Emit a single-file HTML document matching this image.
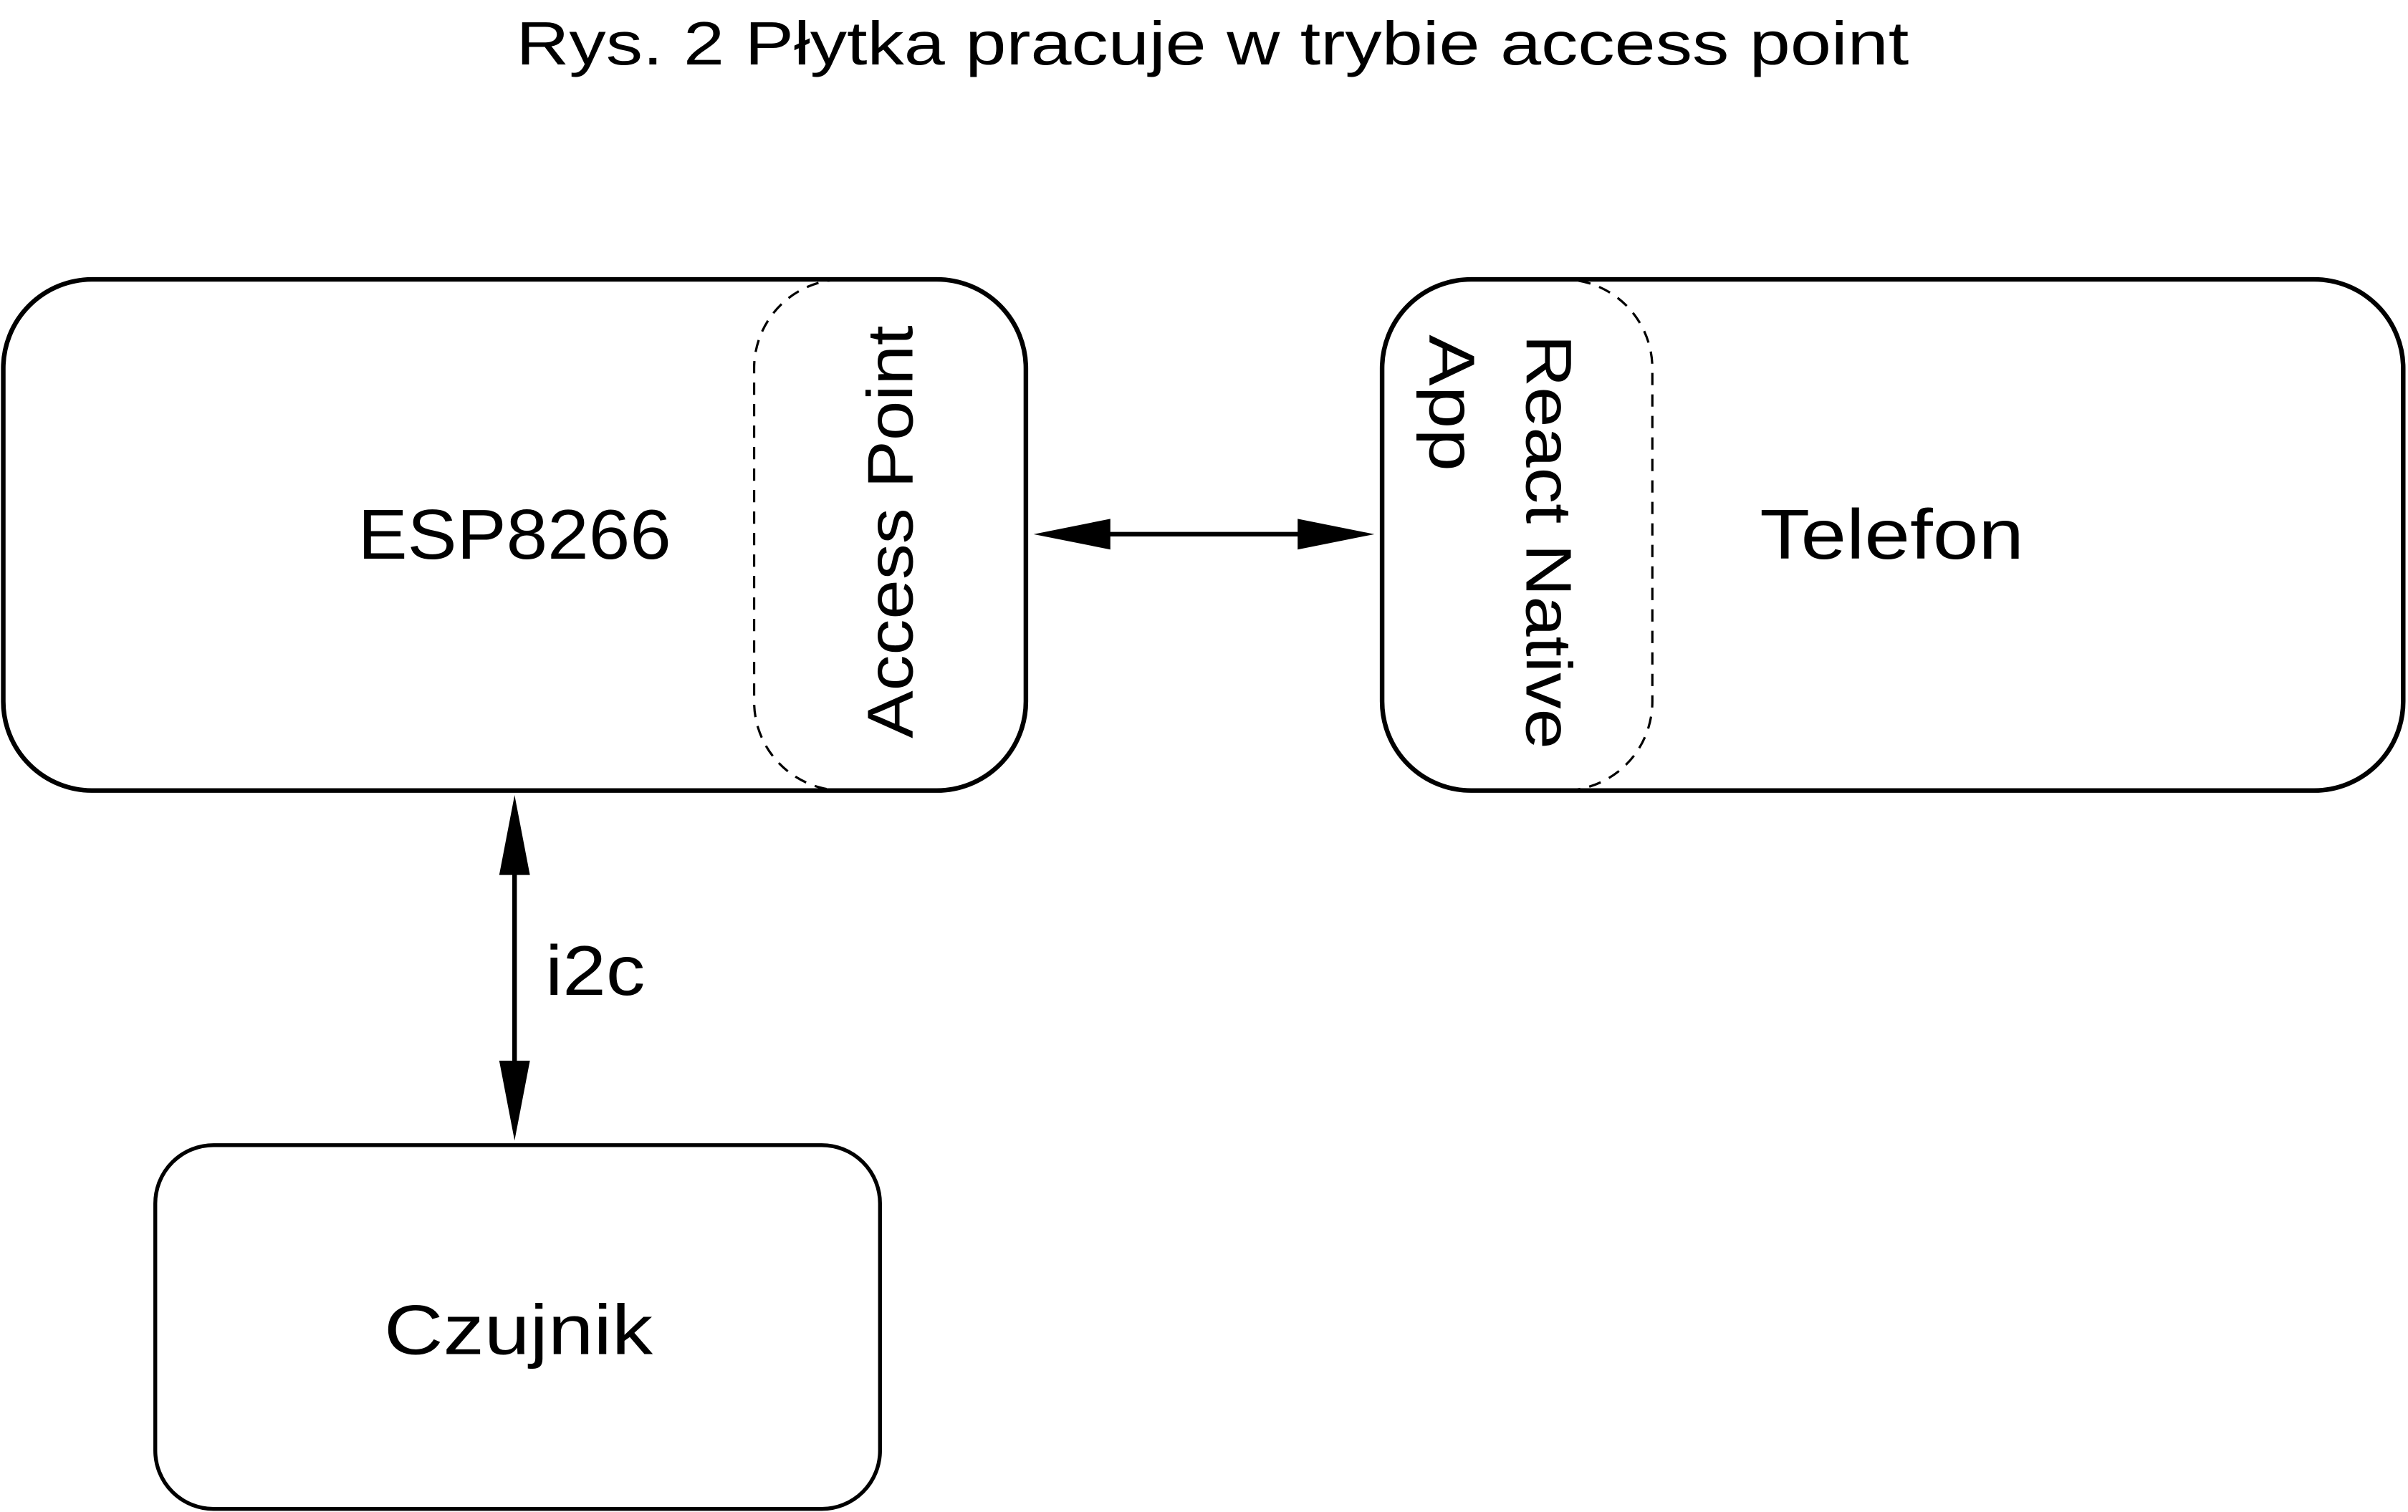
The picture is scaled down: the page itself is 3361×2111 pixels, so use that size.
<!DOCTYPE html>
<html><head><meta charset="utf-8"><style>html,body{margin:0;padding:0;background:#fff;}svg{display:block}</style></head>
<body>
<svg width="3361" height="2111" viewBox="0 0 1568 985" xmlns="http://www.w3.org/2000/svg" font-family="'Liberation Sans', sans-serif">
<rect width="1568" height="985" fill="#fff"/>
<text x="336" y="42" font-size="40" textLength="907" lengthAdjust="spacingAndGlyphs">Rys. 2 Płytka pracuje w trybie access point</text>
<rect x="2" y="182" width="666" height="333" rx="58" fill="none" stroke="#000" stroke-width="3"/>
<rect x="491" y="182" width="177" height="333" rx="58" fill="none" stroke="#000" stroke-width="1.5" stroke-dasharray="8,6"/>
<text x="233" y="364" font-size="46" textLength="204" lengthAdjust="spacingAndGlyphs">ESP8266</text>
<text transform="translate(594,481) rotate(-90)" font-size="42" textLength="269" lengthAdjust="spacingAndGlyphs">Access Point</text>
<rect x="900" y="182" width="665" height="333" rx="58" fill="none" stroke="#000" stroke-width="3"/>
<rect x="900" y="182" width="176" height="333" rx="58" fill="none" stroke="#000" stroke-width="1.5" stroke-dasharray="8,6"/>
<text x="1146" y="364" font-size="46" textLength="172" lengthAdjust="spacingAndGlyphs">Telefon</text>
<text transform="translate(994,218) rotate(90)" font-size="42" textLength="270" lengthAdjust="spacingAndGlyphs">React Native</text>
<text transform="translate(931,218) rotate(90)" font-size="42" textLength="89" lengthAdjust="spacingAndGlyphs">App</text>
<line x1="715" y1="348" x2="850" y2="348" stroke="#000" stroke-width="3"/>
<polygon points="673,348 723,338 723,358" fill="#000"/>
<polygon points="895,348 845,338 845,358" fill="#000"/>
<line x1="335" y1="560" x2="335" y2="700" stroke="#000" stroke-width="3"/>
<polygon points="335,518 325,570 345,570" fill="#000"/>
<polygon points="335,743 325,691 345,691" fill="#000"/>
<text x="355" y="648" font-size="46" textLength="65" lengthAdjust="spacingAndGlyphs">i2c</text>
<rect x="101" y="746" width="472" height="237" rx="38" fill="none" stroke="#000" stroke-width="2.5"/>
<text x="250" y="882" font-size="46" textLength="175" lengthAdjust="spacingAndGlyphs">Czujnik</text>
</svg>
</body></html>
